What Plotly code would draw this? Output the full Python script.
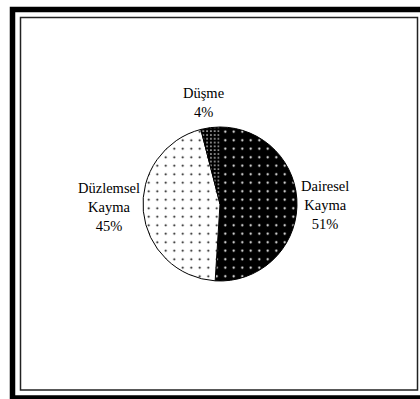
import plotly.graph_objects as go

labels = ["Dairesel Kayma", "Düzlemsel Kayma", "Düşme"]
values = [51, 45, 4]
bg_colors = ["black", "white", "black"]
fg_colors = ["white", "black", "white"]
pattern_sizes = [8.5, 8.5, 3.8]
pattern_solidity = [0.05, 0.045, 0.14]

# label anchor positions in pixels (x, y, xanchor)
label_pos = [(299, 205, "left"), (142, 207, "right"), (203, 102, "center")]

W, H = 420, 399


def px(x):
    return x / W


def py(y):
    return 1 - y / H


texts = [l.replace(" ", "<br>") + "<br>" + f"{v}%" for l, v in zip(labels, values)]

fig = go.Figure(go.Pie(
    labels=labels,
    values=values,
    textinfo="none",
    sort=False,
    direction="clockwise",
    rotation=0,
    marker=dict(
        colors=bg_colors,
        line=dict(color="black", width=1),
        pattern=dict(shape=".", fgcolor=fg_colors, bgcolor=bg_colors,
                     size=pattern_sizes, solidity=pattern_solidity, fgopacity=1),
    ),
    domain=dict(x=[px(143), px(297)], y=[py(281), py(127)]),
    showlegend=False,
    hoverinfo="none",
))

annotations = []
for t, (x, y, xa) in zip(texts, label_pos):
    annotations.append(dict(
        text=t, xref="paper", yref="paper", x=px(x), y=py(y),
        xanchor=xa, yanchor="middle", showarrow=False, align="center",
        font=dict(family="Liberation Serif, Times New Roman, serif", size=14.5, color="black"),
    ))

fig.update_layout(
    width=W, height=H,
    margin=dict(l=0, r=0, t=0, b=0),
    paper_bgcolor="white",
    plot_bgcolor="white",
    annotations=annotations,
    shapes=[
        dict(type="rect", xref="paper", yref="paper",
             x0=px(12.5), x1=px(440), y0=py(398), y1=py(9.5),
             line=dict(color="black", width=5.5), fillcolor="rgba(0,0,0,0)", layer="above"),
        dict(type="rect", xref="paper", yref="paper",
             x0=px(20.5), x1=px(417.5), y0=py(390), y1=py(17.5),
             line=dict(color="#222", width=1.5), fillcolor="rgba(0,0,0,0)", layer="above"),
    ],
)

fig.write_html("out.html")
